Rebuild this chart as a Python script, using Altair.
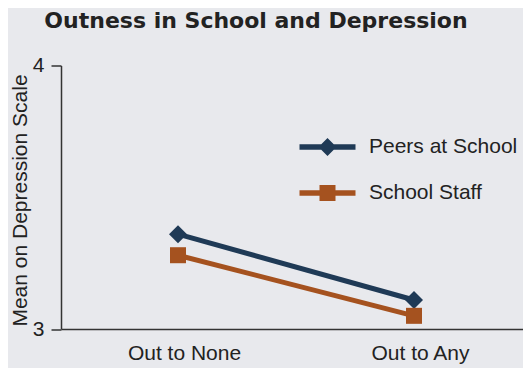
import altair as alt
import pandas as pd

categories = ["Out to None", "Out to Any"]
series = ["Peers at School", "School Staff"]
peers_values = [3.36, 3.11]
staff_values = [3.28, 3.05]
colors = ["#1f3a56", "#a5521f"]
y_ticks = [3, 4]

rows = []
for cat, pv, sv in zip(categories, peers_values, staff_values):
    rows.append({"outness": cat, "series": series[0], "value": pv})
    rows.append({"outness": cat, "series": series[1], "value": sv})
df = pd.DataFrame(rows)

FONT = "Liberation Sans"
TEXT = "#222222"
AXC = "#333333"

x_enc = alt.X(
    "outness:N",
    sort=categories,
    scale=alt.Scale(type="point", padding=0.4788, align=0.5177),
    axis=alt.Axis(title=None, ticks=False, labelAngle=0, labelFont=FONT,
                  labelFontSize=21, labelColor=TEXT, labelPadding=13,
                  labelOffset=6, domainColor=AXC, domainWidth=1.5),
)
y_enc = alt.Y(
    "value:Q",
    scale=alt.Scale(domain=[3, 4], nice=False, zero=False),
    axis=alt.Axis(values=y_ticks, format="d", grid=False, tickSize=10, tickColor=AXC,
                  tickWidth=1.5, domainColor=AXC, domainWidth=1.5,
                  labelFont=FONT, labelFontSize=21, labelColor=TEXT,
                  labelPadding=7, title="Mean on Depression Scale",
                  titleFont=FONT, titleFontSize=21, titleFontWeight="normal",
                  titleColor=TEXT, titleAngle=270, titleAlign="center",
                  titleBaseline="alphabetic", titleX=-35, titleY=134.5),
)
color_scale = alt.Scale(domain=series, range=colors)

base = alt.Chart(df)

lines = base.mark_line(strokeWidth=5).encode(
    x=x_enc, y=y_enc,
    color=alt.Color("series:N", scale=color_scale, legend=None),
    detail="series:N",
)
diamonds = base.transform_filter(alt.datum.series == series[0]).mark_point(
    shape="diamond", size=324, filled=True, opacity=1
).encode(x=x_enc, y=y_enc, color=alt.Color("series:N", scale=color_scale, legend=None))
squares = base.transform_filter(alt.datum.series == series[1]).mark_point(
    shape="square", size=256, filled=True, opacity=1
).encode(x=x_enc, y=y_enc, color=alt.Color("series:N", scale=color_scale, legend=None))

path_peers = "M-2.8,-0.27L2.8,-0.27L2.8,0.27L-2.8,0.27Z M-0.9,0L0,-0.9L0.9,0L0,0.9Z"
path_staff = "M-2.8,-0.27L2.8,-0.27L2.8,0.27L-2.8,0.27Z M-0.8,-0.8L0.8,-0.8L0.8,0.8L-0.8,0.8Z"

legend_kw = dict(orient="none", legendX=256, legendY=71, title=None,
                 labelFont=FONT, labelFontSize=21, labelColor=TEXT,
                 symbolSize=400, symbolStrokeWidth=0, labelOffset=31,
                 rowPadding=24, padding=0)
legend_layer = base.transform_filter("false").mark_point(filled=True, opacity=1).encode(
    x=x_enc, y=y_enc,
    color=alt.Color("series:N", scale=color_scale, legend=alt.Legend(**legend_kw)),
    shape=alt.Shape("series:N", scale=alt.Scale(domain=series, range=[path_peers, path_staff]),
                    legend=alt.Legend(**legend_kw)),
)

chart = alt.layer(lines, diamonds, squares, legend_layer).resolve_scale(
    color="independent", shape="independent"
).properties(
    width=462, height=263.5,
    autosize=alt.AutoSizeParams(type="none"),
    padding={"left": 53, "top": 57.5, "right": 0, "bottom": 39},
    title=alt.TitleParams("Outness in School and Depression", font="DejaVu Sans",
                          fontSize=22, fontWeight="bold", color=TEXT,
                          anchor="middle", frame="group", dx=-36,
                          baseline="alphabetic", offset=5),
).configure(background="#e8e9ed").configure_view(stroke=None)

chart.save("out.html", embed_options={"renderer": "svg", "actions": False})
